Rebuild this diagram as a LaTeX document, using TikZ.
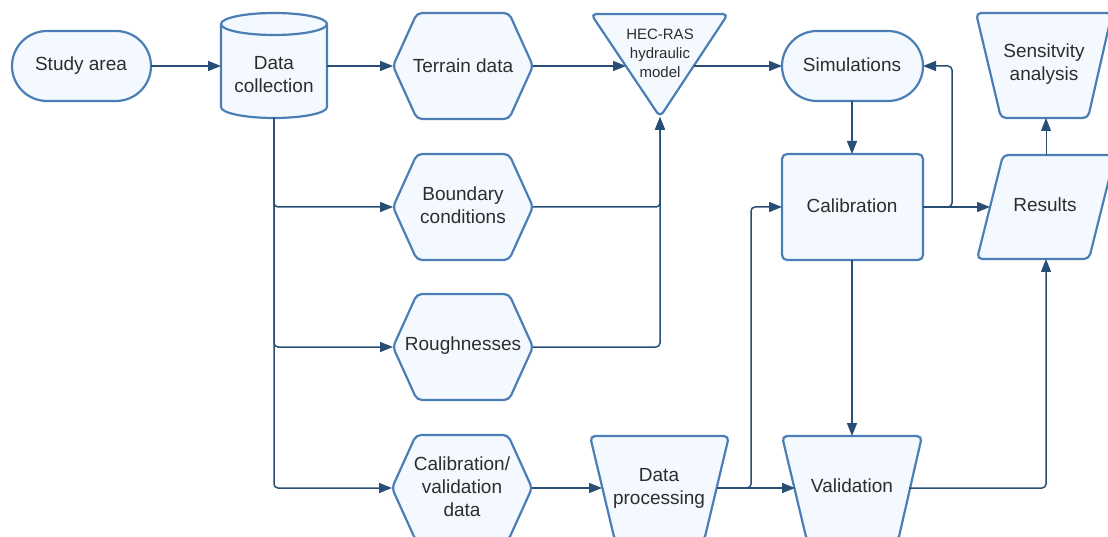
\documentclass[tikz,border=0pt]{standalone}
\usepackage{fontspec}
\setmainfont{Liberation Sans}
\usetikzlibrary{arrows.meta}
\definecolor{bordercol}{RGB}{74,126,180}
\definecolor{fillcol}{RGB}{244,249,255}
\definecolor{arrowcol}{RGB}{40,78,118}
\definecolor{textcol}{RGB}{45,45,45}
\tikzset{
  shp/.style={draw=bordercol, fill=fillcol, line width=2.2pt, rounded corners=5pt, line join=round},
  lbl/.style={text=textcol, align=center, font=\fontsize{19}{23}\selectfont, inner sep=0pt},
  small/.style={text=textcol, align=center, font=\fontsize{15}{19}\selectfont, inner sep=0pt},
  conn/.style={draw=arrowcol, line width=1.5pt, rounded corners=4pt, -{Triangle[length=13pt,width=10pt]}},
  thinconn/.style={draw=arrowcol, line width=0.9pt, -{Triangle[length=13pt,width=10pt]}}
}
\begin{document}
\begin{tikzpicture}[x=1pt,y=-1pt]
\useasboundingbox (0,0) rectangle (1108,537);
\clip (0,0) rectangle (1108,537);
% ---------- shapes ----------
% Study area (stadium)
\draw[shp, rounded corners=35pt] (12,31) rectangle (151,101);
% Data collection (cylinder)
\draw[shp, rounded corners=0pt] (221,24) -- (221,107) arc (180:0:53 and 11) -- (327,24);
\draw[shp, rounded corners=0pt] (274,24) ellipse (53 and 11);
% hexagons
\foreach \cx/\cy in {463/66, 463/207, 463/347, 462/488}{
  \draw[shp] (\cx-70,\cy) -- (\cx-46,\cy-53) -- (\cx+46,\cy-53) -- (\cx+70,\cy) -- (\cx+46,\cy+53) -- (\cx-46,\cy+53) -- cycle;
}
% HEC-RAS triangle
\draw[shp] (591,14) -- (728,14) -- (660,117) -- cycle;
% Simulations (stadium)
\draw[shp, rounded corners=35pt] (782,31) rectangle (923,101);
% Sensitivity analysis (trapezoid)
\draw[shp] (976,13) -- (1112,13) -- (1088,118) -- (1001,118) -- cycle;
% Calibration (rectangle)
\draw[shp] (782,154) rectangle (923,260);
% Results (parallelogram)
\draw[shp] (1003,155) -- (1115,155) -- (1089,259) -- (977,259) -- cycle;
% Data processing (trapezoid)
\draw[shp] (590,436) -- (729,436) -- (704,541) -- (615,541) -- cycle;
% Validation (trapezoid)
\draw[shp] (782,436) -- (922,436) -- (898,541) -- (807,541) -- cycle;

% ---------- labels ----------
\node[lbl] (sa) at (81,66) {Study area};
\node[lbl] (dc) at (274,75) {Data\\collection};
\node[lbl] (td) at (463,66) {Terrain data};
\node[small] (hec) at (660,53) {HEC-RAS\\hydraulic\\model};
\node[lbl] (sim) at (852,65) {Simulations};
\node[lbl] (sen) at (1044,64) {Sensitvity\\analysis};
\node[lbl] (cal) at (852,206) {Calibration};
\node[lbl] (res) at (1045,205) {Results};
\node[lbl] (bc) at (463,205) {Boundary\\conditions};
\node[lbl] (rg) at (463,346) {Roughnesses};
\node[lbl] (cv) at (462,487) {Calibration/\\validation\\data};
\node[lbl] (dp) at (659,488) {Data\\processing};
\node[lbl] (val) at (852,486) {Validation};

% ---------- attachment points ----------
\coordinate (sa-e) at (151,66);
\coordinate (dc-w) at (221,66);
\coordinate (dc-e) at (327,66);
\coordinate (dc-s) at (274,118);
\coordinate (td-w) at (393,66);
\coordinate (td-e) at (533,66);
\coordinate (hec-w) at (626,66);
\coordinate (hec-e) at (694,66);
\coordinate (hec-s) at (660,117);
\coordinate (sim-w) at (782,66);
\coordinate (sim-e) at (923,66);
\coordinate (sim-s) at (852,101);
\coordinate (cal-n) at (852,154);
\coordinate (cal-s) at (852,260);
\coordinate (cal-w) at (782,207);
\coordinate (cal-e) at (923,207);
\coordinate (cal-j) at (952,207);
\coordinate (res-w) at (990,207);
\coordinate (res-n) at (1046,155);
\coordinate (res-s) at (1046,259);
\coordinate (sen-s) at (1046,118);
\coordinate (bc-w) at (393,207);
\coordinate (bc-e) at (533,207);
\coordinate (rg-w) at (393,347);
\coordinate (rg-e) at (533,347);
\coordinate (cv-w) at (392,488);
\coordinate (cv-e) at (532,488);
\coordinate (dp-w) at (602,488);
\coordinate (dp-e) at (717,488);
\coordinate (dp-j) at (751,488);
\coordinate (val-w) at (795,488);
\coordinate (val-e) at (909,488);
\coordinate (val-n) at (852,436);

% ---------- connectors ----------
\draw[conn] (sa-e) -- (dc-w);
\draw[conn] (dc-e) -- (td-w);
\draw[conn] (td-e) -- (hec-w);
\draw[conn] (hec-e) -- (sim-w);
\draw[conn] (dc-s) |- (bc-w);
\draw[conn] (dc-s) |- (rg-w);
\draw[conn] (dc-s) |- (cv-w);
\draw[conn] (bc-e) -| (hec-s);
\draw[conn] (rg-e) -| (hec-s);
\draw[conn] (sim-s) -- (cal-n);
\draw[conn] (cal-e) -- (res-w);
\draw[conn] (cal-e) -- (cal-j) |- (sim-e);
\draw[thinconn] (res-n) -- (sen-s);
\draw[conn] (cal-s) -- (val-n);
\draw[conn] (cv-e) -- (dp-w);
\draw[conn] (dp-e) -- (val-w);
\draw[conn] (dp-e) -- (dp-j) |- (cal-w);
\draw[conn] (val-e) -| (res-s);
\end{tikzpicture}
\end{document}
